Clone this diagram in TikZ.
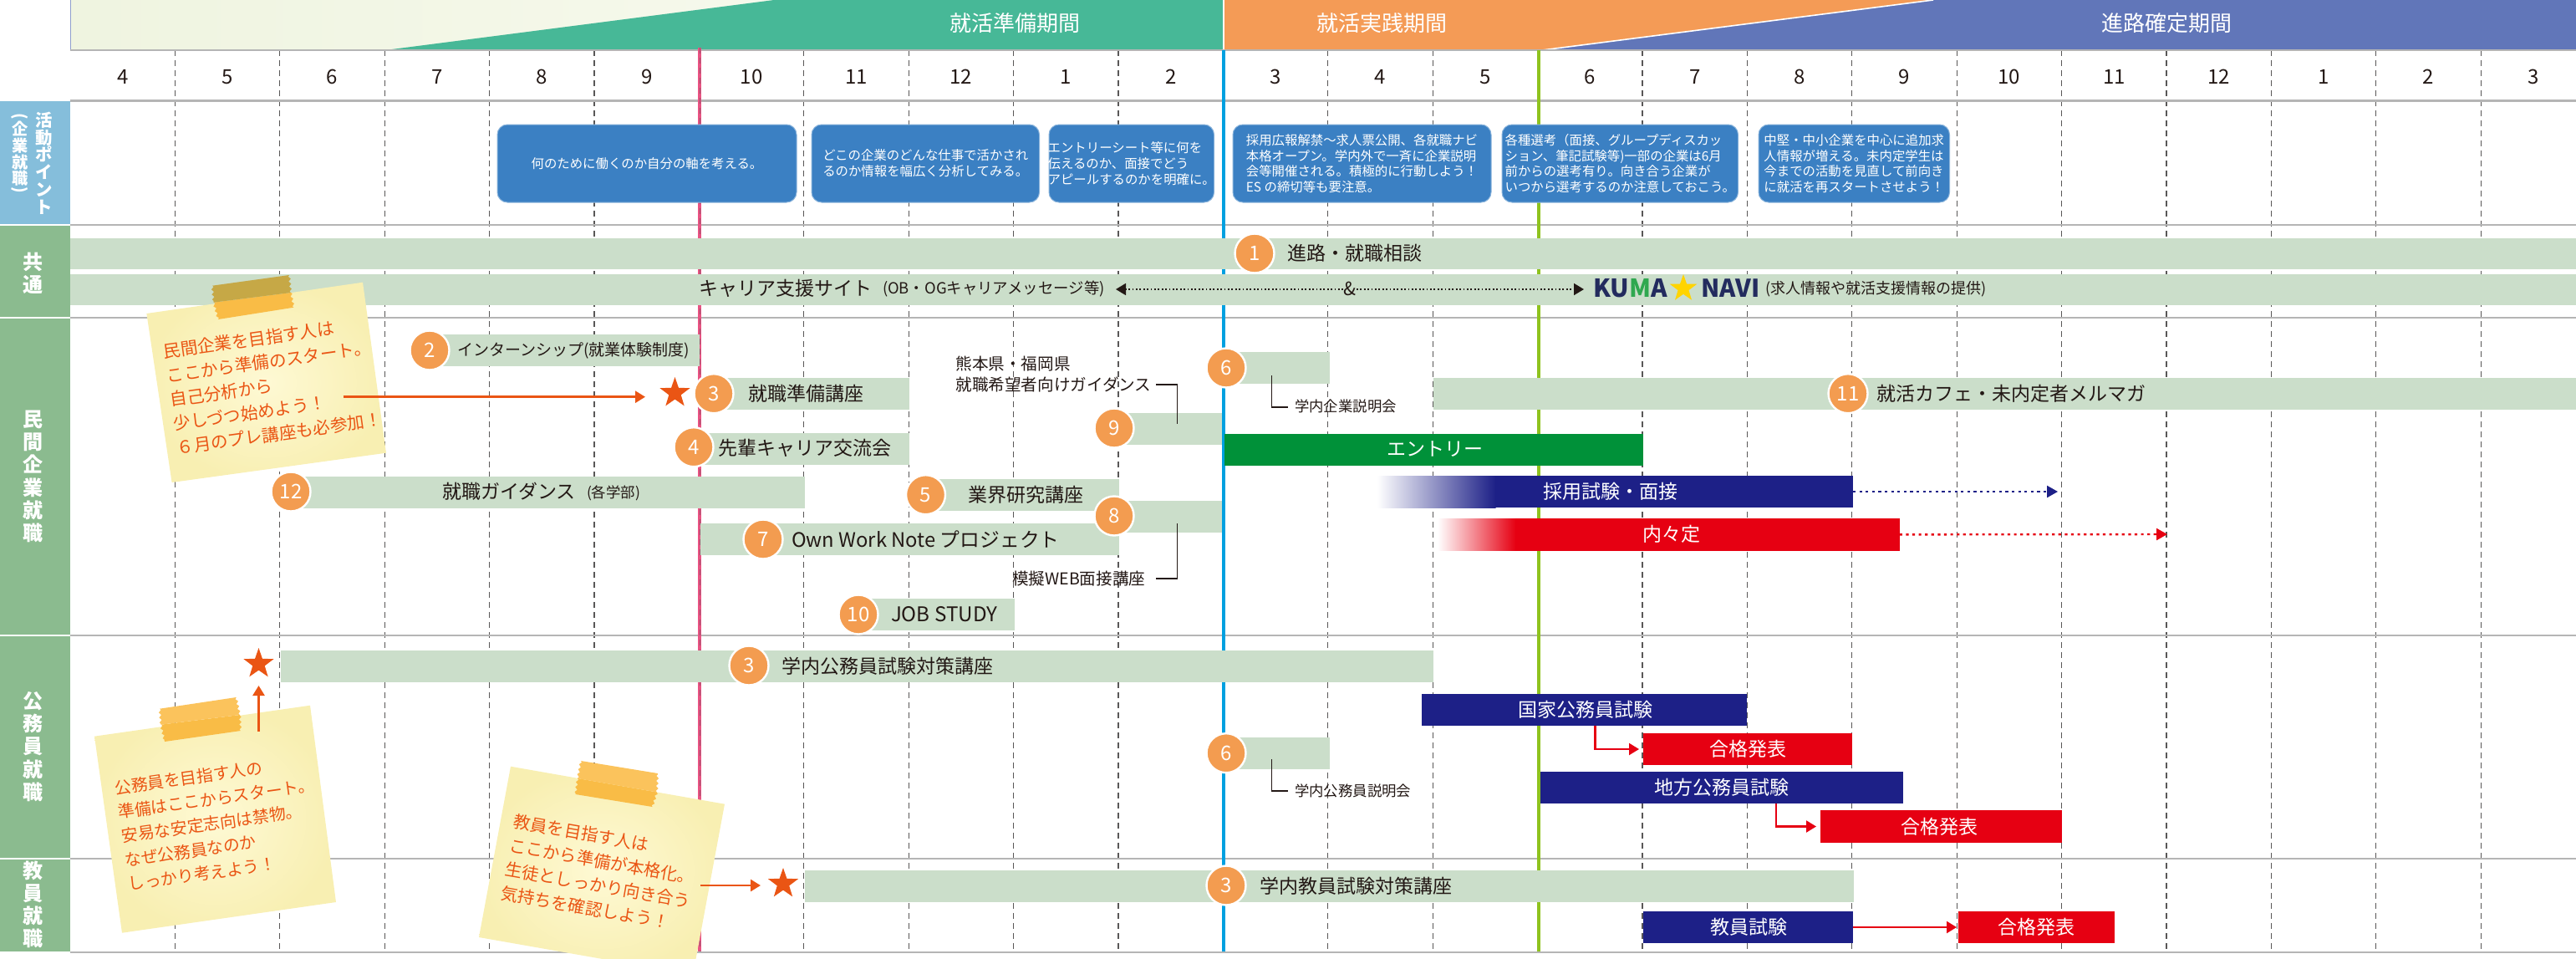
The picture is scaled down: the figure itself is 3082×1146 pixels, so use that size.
\documentclass[tikz,border=0pt]{standalone}
\usepackage{fontspec}
\setmainfont{Noto Sans CJK JP}
\usetikzlibrary{shapes.geometric,arrows.meta,decorations.pathmorphing}
\definecolor{barg}{HTML}{CBDECA}
\definecolor{rulegray}{HTML}{B5B5B5}
\definecolor{dashgray}{HTML}{595757}
\definecolor{ink}{HTML}{231815}
\definecolor{headg}{HTML}{47B897}
\definecolor{heado}{HTML}{F49B56}
\definecolor{headb}{HTML}{6176B9}
\definecolor{boxb}{HTML}{3B80C3}
\definecolor{sidea}{HTML}{85BEDB}
\definecolor{sideg}{HTML}{8BBB8F}
\definecolor{navy}{HTML}{1D2087}
\definecolor{redbar}{HTML}{E60012}
\definecolor{greenbar}{HTML}{009139}
\definecolor{circo}{HTML}{F39C50}
\definecolor{orng}{HTML}{EA5514}
\definecolor{pinkl}{HTML}{E95383}
\definecolor{bluel}{HTML}{00A0E0}
\definecolor{greenl}{HTML}{8FC31F}
\definecolor{logon}{HTML}{232B5E}
\definecolor{logog}{HTML}{2FA84F}
\definecolor{logoy}{HTML}{FFD400}
\definecolor{hlighta}{HTML}{EFF4E0}
\definecolor{hlightb}{HTML}{F6F9EC}
\definecolor{notein}{HTML}{FEF9D4}
\definecolor{noteout}{HTML}{F8EFB2}
\definecolor{tapelow}{HTML}{F9BC46}
\definecolor{tapedark}{HTML}{C6A846}
\definecolor{tapeup}{HTML}{FBC35C}
\newcommand{\mybar}[6]{%
  \pgfmathsetmacro\mybw{(#3-#2)*0.5}\pgfmathsetmacro\mybh{(#5-#4)*0.5}%
  \node[rectangle,inner sep=0pt,outer sep=0pt,draw=none,minimum width=\mybw pt,minimum height=\mybh pt,anchor=north west,#6] (#1) at (#2,#4) {};}
\newcommand{\rotL}{\rotatebox[origin=c]{-90}{(}}
\newcommand{\rotR}{\rotatebox[origin=c]{-90}{)}}
\newcommand{\fwx}{\symbol{"FF01}}
\newcommand{\fwsix}{\symbol{"FF16}}
\newcommand{\fwlp}{\symbol{"FF08}}
\tikzset{
  x=0.5pt,y=-0.5pt,
  gbar/.style={fill=barg},
  numc/.style={circle,fill=circo,draw=white,line width=1.2pt,minimum size=23.5pt,inner sep=0pt,text=white,font=\fontsize{12}{14}\selectfont},
  tb/.style={inner sep=0pt,outer sep=0pt,text=ink,anchor=west,font=\fontsize{11.5}{14}\selectfont},
  ts/.style={inner sep=0pt,outer sep=0pt,text=ink,anchor=west,font=\fontsize{8.7}{10}\selectfont},
  tw/.style={inner sep=0pt,outer sep=0pt,text=white,font=\fontsize{11.5}{14}\selectfont},
  hd/.style={inner sep=0pt,text=white,font=\fontsize{13}{15}\selectfont},
  mon/.style={inner sep=0pt,text=ink,font=\fontsize{12}{14}\selectfont},
  pbox/.style={rounded corners=6pt,fill=boxb,draw=boxb!60!white,line width=0.5pt},
  ptxt/.style={inner sep=0pt,text=white,align=left,font=\fontsize{7.7}{9.35}\selectfont},
  side/.style={inner sep=0pt,text=white,align=center,font=\bfseries\fontsize{12}{13.6}\selectfont},
  strs/.style={star,star points=5,star point ratio=2.5,fill=orng,minimum size=19pt,inner sep=0pt},
  arr/.style={draw=orng,line width=1.3pt,-{Triangle[length=6pt,width=7pt]}},
  redarr/.style={draw=redbar,line width=1.1pt,-{Triangle[length=6pt,width=7pt]}},
  dotn/.style={draw=navy,line width=1.2pt,dash pattern=on 1.6pt off 2.2pt,-{Triangle[length=6.5pt,width=7pt]}},
  dotr/.style={draw=redbar,line width=1.2pt,dash pattern=on 1.6pt off 2.2pt,-{Triangle[length=6.5pt,width=7pt]}},
  dotk/.style={draw=ink,line width=0.9pt,dash pattern=on 0.9pt off 1.3pt,-{Triangle[length=6pt,width=7pt]}},
  lead/.style={draw=ink,line width=0.9pt},
  grid/.style={draw=dashgray,line width=0.55pt,dash pattern=on 3.6pt off 2.4pt},
  rulel/.style={draw=rulegray,line width=1.1pt},
  note/.style={inner color=notein,outer color=noteout},
  ntxt/.style={inner sep=0pt,text=orng,align=left},
  zz/.style={decoration={zigzag,segment length=3pt,amplitude=0.7pt}},
}
\begin{document}
\begin{tikzpicture}
\useasboundingbox (0,0) rectangle (3082,1146);
\clip (0,0) rectangle (3082,1146);
% header
\shade[left color=hlighta,right color=hlightb] (84,0) rectangle (926,60);
\fill[headg] (461,60) -- (926,0) -- (1464,0) -- (1464,60) -- cycle;
\fill[headb] (1845,60) -- (2313,0) -- (3082,0) -- (3082,60) -- cycle;
\fill[heado] (1464,0) -- (2313,0) -- (1845,60) -- (1464,60) -- cycle;
\draw[white,line width=0.8pt] (1845,60) -- (2313,0);
\draw[white,line width=0.8pt] (1464,0) -- (1464,60);
\draw[headb!70!white,line width=0.4pt] (84,0) -- (84,60);
\node[hd] (p1) at (1214,28) {就活準備期間};
\node[hd] (p2) at (1653,28) {就活実践期間};
\node[hd] (p3) at (2592,28) {進路確定期間};
% grid
\foreach \n in {1,2,3,4,5,7,8,9,10,12,13,15,16,17,18,19,20,21,22,23}
  \draw[grid] ({84+125.4*\n},60) -- ({84+125.4*\n},1138);
\foreach \m [count=\i from 0] in {4,5,6,7,8,9,10,11,12,1,2,3,4,5,6,7,8,9,10,11,12,1,2,3}
  \node[mon] (m\i) at ({84+125.4*(\i+0.5)},92) {\m};
% rules
\foreach \y in {60,120.5,269,380,760,1027,1139}
  \draw[rulel] (84,\y) -- (3082,\y);
% key lines
\draw[pinkl,line width=2pt] (837,57) -- (837,1138);
\draw[dashgray!60!pinkl,line width=0.5pt,dash pattern=on 3.6pt off 2.4pt] (837,57) -- (837,1138);
\draw[bluel,line width=2.4pt] (1464,60) -- (1464,1138);
\draw[greenl,line width=2.4pt] (1841,60) -- (1841,1138);
% side
\fill[sidea] (0,120.5) rectangle (84,268);
\fill[sideg] (0,270) rectangle (84,378.5);
\fill[sideg] (0,381) rectangle (84,758.5);
\fill[sideg] (0,761) rectangle (84,1026);
\fill[sideg] (0,1028) rectangle (84,1138);
\node[side,font=\bfseries\fontsize{10.2}{10.4}\selectfont] (sa1) at (53,195) {活\\動\\ポ\\イ\\ン\\ト};
\node[side,font=\bfseries\fontsize{9.6}{9.8}\selectfont] (sa2) at (24,184) {\rotL\\[-1.3pt]企\\業\\就\\職\\[-3.7pt]\rotR};
\node[side] (s1) at (39,327) {共\\通};
\node[side] (s2) at (39,570) {民\\間\\企\\業\\就\\職};
\node[side] (s3) at (39,893) {公\\務\\員\\就\\職};
\node[side] (s4) at (39,1082) {教\\員\\就\\職};
% activity boxes
\mybar{b1}{595}{953}{149}{242}{pbox}
\mybar{b2}{971}{1243.5}{149}{242}{pbox}
\mybar{b3}{1255}{1452.5}{149}{242}{pbox}
\mybar{b4}{1475}{1784}{149}{242}{pbox}
\mybar{b5}{1797}{2079.5}{149}{242}{pbox}
\mybar{b6}{2104}{2332.5}{149}{242}{pbox}
\node[ptxt] (bt1) at (b1) {何のために働くのか自分の軸を考える。};
\node[ptxt] (bt2) at (b2) {どこの企業のどんな仕事で活かされ\\るのか情報を幅広く分析してみる。};
\node[ptxt] (bt3) at (b3) {エントリーシート等に何を\\伝えるのか、面接でどう\\アピールするのかを明確に。};
\node[ptxt] (bt4) at (b4) {採用広報解禁〜求人票公開、各就職ナビ\\本格オープン。学内外で一斉に企業説明\\会等開催される。積極的に行動しよう\fwx\\ES の締切等も要注意。};
\node[ptxt] (bt5) at (b5) {各種選考\fwlp 面接、グループディスカッ\\ション、筆記試験等)一部の企業は6月\\前からの選考有り。向き合う企業が\\いつから選考するのか注意しておこう。};
\node[ptxt] (bt6) at (b6) {中堅・中小企業を中心に追加求\\人情報が増える。未内定学生は\\今までの活動を見直して前向き\\に就活を再スタートさせよう\fwx};
% common bands
\mybar{c1}{84}{3082}{285}{322}{gbar}
\mybar{c2}{84}{3082}{328}{365}{gbar}
\node[tb] (c1t) at (1540,303) {進路・就職相談};
\node[tb] (c2t) at (836,345) {キャリア支援サイト};
\node[ts,font=\fontsize{9.2}{10}\selectfont] (c2s) at (1056,346) {(OB・OGキャリアメッセージ等)};
\node[inner sep=0pt,text=ink,font=\fontsize{11}{13}\selectfont] (amp) at (1615,345) {\&};
\coordinate (al) at (1335,346);
\coordinate (ar) at (1895,346);
\draw[dotk] (amp.west |- al) -- (al);
\draw[dotk] (amp.east |- ar) -- (ar);
\node[inner sep=0pt,anchor=west,font=\bfseries\fontsize{14.8}{16}\selectfont] (logo1) at (1906,345) {\textcolor{logon}{KU}\textcolor{logog}{M}\textcolor{logon}{A}};
\node[star,star points=5,star point ratio=2.5,fill=logoy,minimum size=17pt,inner sep=0pt] (logos) at (2014,345) {};
\node[inner sep=0pt,anchor=west,text=logon,font=\bfseries\fontsize{14.6}{16}\selectfont] (logo2) at (2035,345) {NAVI};
\node[ts,font=\fontsize{9}{10}\selectfont] (c2e) at (2112,346) {(求人情報や就活支援情報の提供)};
% private bars
\mybar{r2}{514}{837}{400}{438}{gbar}
\mybar{r3}{854}{1088}{452}{490}{gbar}
\mybar{r4}{830}{1088}{518}{556}{gbar}
\mybar{r12}{348}{962.6}{570}{608}{gbar}
\mybar{r7}{838}{1339}{626}{664}{gbar}
\mybar{r5}{1107}{1339}{573}{611}{gbar}
\mybar{r8}{1333}{1462}{599}{637}{gbar}
\mybar{r9}{1333}{1462}{494}{532}{gbar}
\mybar{r10}{1027}{1214}{716}{754}{gbar}
\mybar{r6}{1467}{1590.5}{421}{459}{gbar}
\mybar{r11}{1715}{3082}{452}{490}{gbar}
\node[tb,font=\fontsize{9.5}{12}\selectfont] (r2t) at (547,419) {インターンシップ(就業体験制度)};
\node[tb] (r3t) at (895,471) {就職準備講座};
\node[tb] (r4t) at (859.5,536) {先輩キャリア交流会};
\node[tb] (r12t) at (529,588) {就職ガイダンス};
\node[ts] (r12s) at (702,590) {(各学部)};
\node[tb,font=\fontsize{11.9}{14}\selectfont] (r7t) at (947,645) {Own Work Note プロジェクト};
\node[tb] (r5t) at (1158,592) {業界研究講座};
\node[tb,font=\fontsize{12.1}{14}\selectfont] (r10t) at (1066,735) {JOB STUDY};
\node[tb] (r11t) at (2245,471) {就活カフェ・未内定者メルマガ};
\node[inner sep=0pt,text=ink,align=left,anchor=west,font=\fontsize{9.8}{12.5}\selectfont] (l9) at (1143,448) {熊本県・福岡県\\就職希望者向けガイダンス};
\node[inner sep=0pt,text=ink,anchor=west,font=\fontsize{9.8}{12}\selectfont] (l8) at (1210.7,692) {模擬WEB面接講座};
\node[ts] (l6) at (1549,486) {学内企業説明会};
\coordinate (l9a) at (1383,460);
\coordinate (l9b) at (1408.5,506.7);
\draw[lead] (l9a) -| (l9b);
\coordinate (l8a) at (1383,691.7);
\coordinate (l8b) at (1408.5,626);
\draw[lead] (l8a) -| (l8b);
\coordinate (l6a) at (1521.5,449);
\coordinate (l6b) at (1541,486.7);
\draw[lead] (l6a) |- (l6b);
% practical bars
\mybar{en}{1465}{1966}{519}{557}{fill=greenbar}
\node[tw] (ent) at (1716.6,537) {エントリー};
\mybar{sg}{1647.6}{1789.5}{569}{607}{left color=white,right color=navy}
\mybar{sb}{1789}{2217}{569}{607}{fill=navy}
\node[tw] (sbt) at (1927,588) {採用試験・面接};
\coordinate (sbe) at (2462,588);
\draw[dotn] (sb.east) -- (sbe);
\mybar{ng}{1720}{1813.5}{620}{658.7}{left color=white,right color=redbar}
\mybar{nb}{1813}{2272.7}{620}{658.7}{fill=redbar}
\node[tw] (nbt) at (2000,639) {内々定};
\coordinate (nbe) at (2593,639);
\draw[dotr] (nb.east) -- (nbe);
% public service
\mybar{k3}{335.7}{1715}{778}{816}{gbar}
\node[tb] (k3t) at (935.6,797) {学内公務員試験対策講座};
\mybar{k6}{1467}{1590.5}{882}{920}{gbar}
\node[ts] (k6l) at (1549,945.5) {学内公務員説明会};
\coordinate (k6a) at (1521.5,908);
\coordinate (k6b) at (1541,945.7);
\draw[lead] (k6a) |- (k6b);
\mybar{kk}{1701}{2090.4}{830}{868}{fill=navy}
\node[tw] (kkt) at (1897,849) {国家公務員試験};
\mybar{p1b}{1966}{2216}{877}{915}{fill=redbar}
\node[tw] (p1t) at (2091,896) {合格発表};
\draw[redarr,shorten >=2.5pt] (1908.5,0 |- kk.south) |- (p1b.west);
\mybar{ch}{1843}{2276.6}{923}{961}{fill=navy}
\node[tw] (cht) at (2060,942) {地方公務員試験};
\mybar{p2b}{2178}{2467}{969}{1008}{fill=redbar}
\node[tw] (p2t) at (2320,988.5) {合格発表};
\draw[redarr,shorten >=2.5pt] (2125,0 |- ch.south) |- (p2b.west);
% teacher
\mybar{t3}{962.6}{2217.6}{1041}{1079}{gbar}
\node[tb] (t3t) at (1507.7,1060) {学内教員試験対策講座};
\mybar{ts1}{1966}{2217}{1090}{1128}{fill=navy}
\node[tw] (ts1t) at (2092,1109) {教員試験};
\mybar{p3b}{2343}{2530}{1090}{1128}{fill=redbar}
\node[tw] (p3t) at (2436,1109) {合格発表};
\draw[redarr,shorten >=1pt] (ts1.east) -- (p3b.west);
% notes
\shade[note] (175.4,375) -- (434,337.7) -- (462,541.7) -- (205.6,577) -- cycle;
\fill[tapelow] (255.6,361.7) decorate[zz] {-- (261,382)} -- (351.5,367.7) decorate[zz] {-- (348,350)} -- cycle;
\fill[tapedark] (254,341.7) decorate[zz] {-- (255.6,361.7)} -- (348,350) decorate[zz] {-- (346,329)} -- cycle;
\node[ntxt,rotate=8,font=\fontsize{10.3}{14.5}\selectfont] (n1) at (326,461) {民間企業を目指す人は\\ここから準備のスタート。\\自己分析から\\少しづつ始めよう\fwx\\\fwsix 月のプレ講座も必参加\fwx};
\shade[note] (113,880.7) -- (371,843.7) -- (402,1079) -- (146,1115.7) -- cycle;
\fill[tapelow] (192.5,866.7) decorate[zz] {-- (197,887)} -- (288,874) decorate[zz] {-- (287,855)} -- cycle;
\fill[tapeup] (191,847.7) decorate[zz] {-- (192.5,866.7)} -- (287,855) decorate[zz] {-- (282.5,834)} -- cycle;
\node[ntxt,rotate=8,font=\fontsize{9.9}{14.5}\selectfont] (n2) at (263,983.6) {公務員を目指す人の\\準備はここからスタート。\\安易な安定志向は禁物。\\なぜ公務員なのか\\しっかり考えよう\fwx};
\shade[note] (611,916.7) -- (867,961.7) -- (829,1166) -- (573,1121) -- cycle;
\fill[tapelow] (691,931) decorate[zz] {-- (688.6,950)} -- (780.5,965) decorate[zz] {-- (786,947.5)} -- cycle;
\fill[tapeup] (695,910) decorate[zz] {-- (691,931)} -- (786,947.5) decorate[zz] {-- (787,925)} -- cycle;
\node[ntxt,rotate=-10,font=\fontsize{10.2}{14.5}\selectfont] (n3) at (718,1044.5) {教員を目指す人は\\ここから準備が本格化。\\生徒としっかり向き合う\\気持ちを確認しよう\fwx};
% stars and their arrows
\node[strs] (st1) at (807.5,470) {};
\node[strs] (st2) at (309.5,794) {};
\node[strs] (st3) at (937,1057) {};
\coordinate (a1s) at (410.6,474.7);
\coordinate (a1e) at (772,474.7);
\draw[arr] (a1s) -- (a1e);
\coordinate (a2s) at (309.5,875);
\coordinate (a2e) at (309.5,820);
\draw[arr] (a2s) -- (a2e);
\coordinate (a3s) at (838,1059);
\coordinate (a3e) at (910,1059);
\draw[arr] (a3s) -- (a3e);
% number circles
\node[numc] (c01) at (1501,303) {1};
\node[numc] (c02) at (514,419) {2};
\node[numc] (c03) at (854,470.7) {3};
\node[numc] (c04) at (830,534.7) {4};
\node[numc] (c12) at (348,588) {12};
\node[numc] (c07) at (913,645) {7};
\node[numc] (c05) at (1107.5,591.7) {5};
\node[numc] (c08) at (1333,617) {8};
\node[numc] (c09) at (1333,512) {9};
\node[numc] (c10) at (1027,735) {10};
\node[numc] (c06) at (1467,440) {6};
\node[numc] (c11) at (2211,470.7) {11};
\node[numc] (d03) at (896,796) {3};
\node[numc] (d06) at (1467,900.7) {6};
\node[numc] (e03) at (1467,1059) {3};
\end{tikzpicture}
\end{document}
